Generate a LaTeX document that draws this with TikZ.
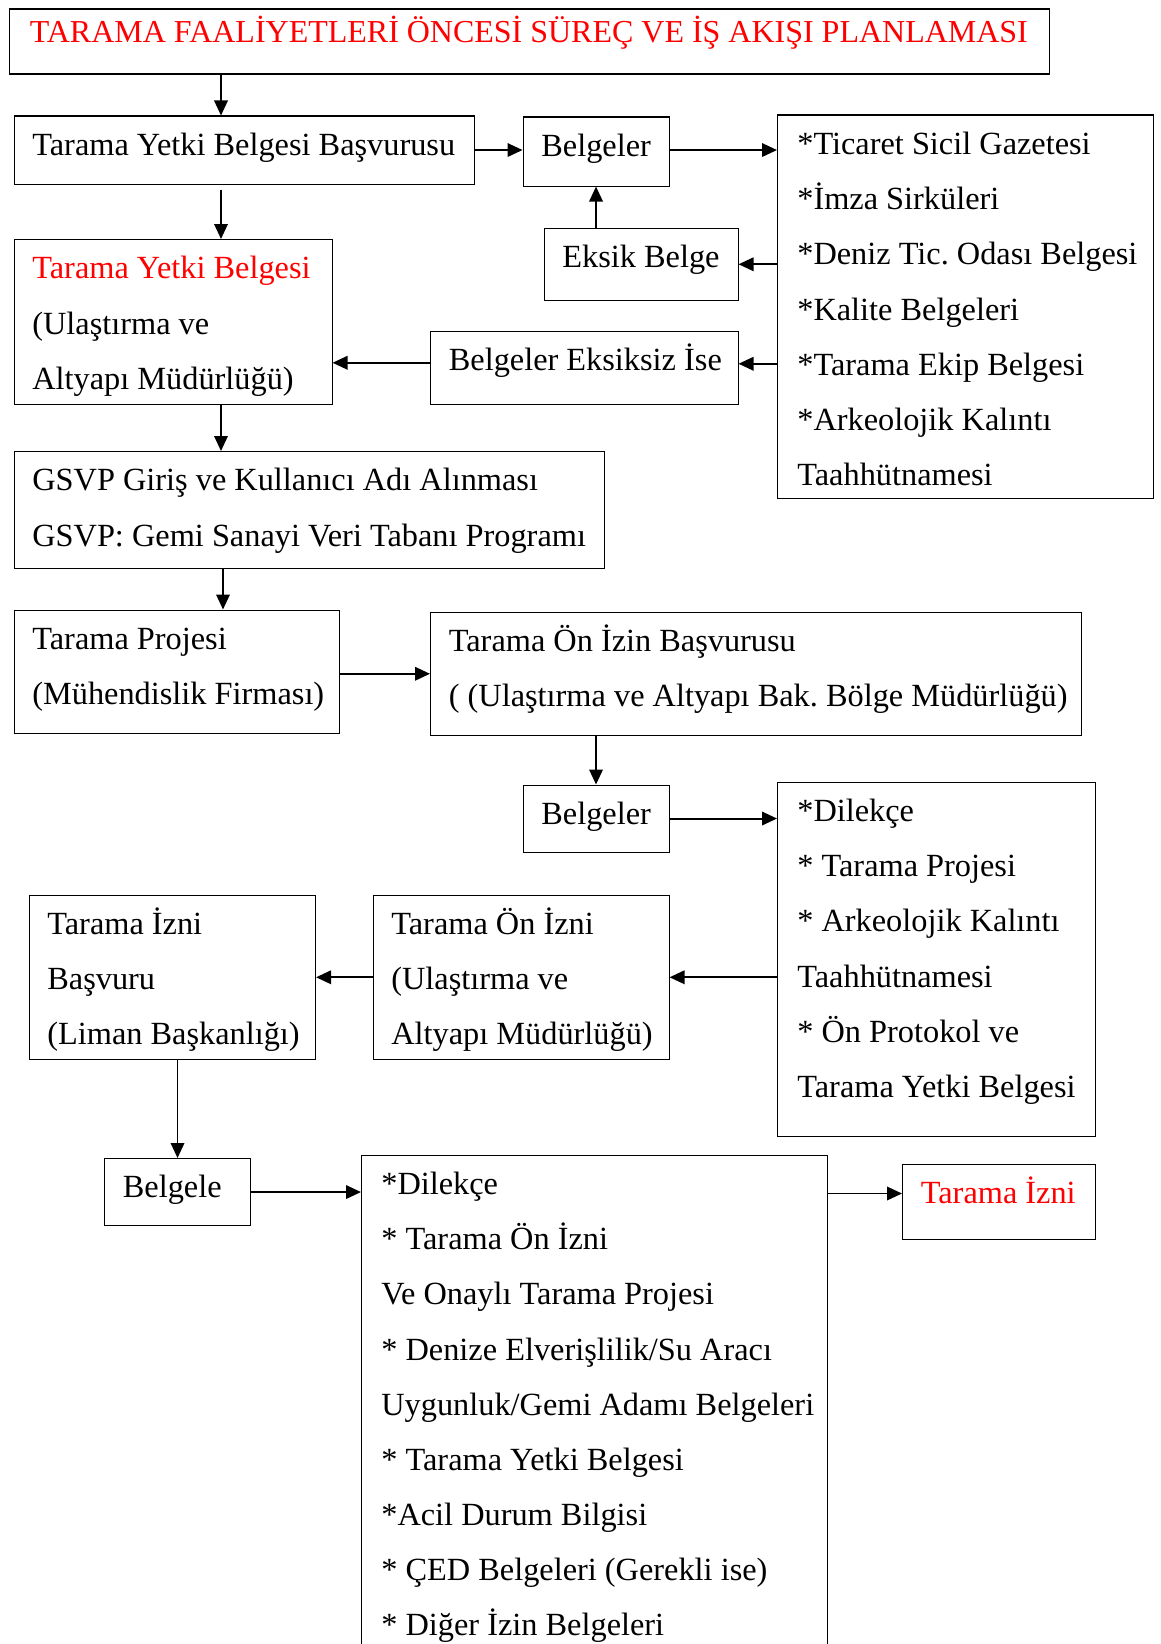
\documentclass[tikz,border=0pt]{standalone}
\usepackage{fontspec}
\setmainfont{Liberation Serif}
\usetikzlibrary{arrows.meta}

\tikzset{
  box/.style={draw, line width=0.6pt, anchor=north west, inner sep=0pt},
  txt/.style={anchor=north west, inner sep=0pt, text width=24cm,
    font=\fontsize{18.4}{31.4}\selectfont\frenchspacing,
    execute at begin node={\spaceskip=0pt\xspaceskip=0pt\strut}},
  arr/.style={-{Triangle[length=0.3cm,width=0.27cm]}, line width=1.1pt},
}

\begin{document}
\begin{tikzpicture}
\clip (0,0) rectangle (23.2,-32.88);

% ---- BAŞLIK ----
\node[box, minimum width=20.81cm, minimum height=1.30cm] (baslik) at (0.17,-0.17) {};
\node[txt, red, font=\fontsize{18.2}{31.4}\selectfont] (baslik-t) at ([shift={(0.42,0.1)}]baslik.north west)
    {TARAMA FAALİYETLERİ ÖNCESİ SÜREÇ VE İŞ AKIŞI PLANLAMASI};

% ---- TARAMA YETKİ BELGESİ ----
\node[box, minimum width=9.21cm, minimum height=1.36cm] (tybb) at (0.27,-2.31) {};
\node[txt] (tybb-t) at ([shift={(0.37,-0.02)}]tybb.north west) {Tarama Yetki Belgesi Başvurusu};
\node[box, minimum width=2.92cm, minimum height=1.38cm] (bel1) at (10.45,-2.33) {};
\node[txt] (bel1-t) at ([shift={(0.37,-0.02)}]bel1.north west) {Belgeler};
\node[box, minimum width=7.51cm, minimum height=7.66cm] (liste1) at (15.54,-2.29) {};
\node[txt] (liste1-t) at ([shift={(0.4,-0.02)}]liste1.north west)
    {*Ticaret Sicil Gazetesi\\{}*İmza Sirküleri\\{}*Deniz Tic. Odası Belgesi\\{}*Kalite Belgeleri\\
     {}*Tarama Ekip Belgesi\\{}*Arkeolojik Kalıntı\\Taahhütnamesi};
\node[box, minimum width=3.88cm, minimum height=1.45cm] (eksik) at (10.87,-4.55) {};
\node[txt] (eksik-t) at ([shift={(0.37,-0.02)}]eksik.north west) {Eksik Belge};
\node[box, minimum width=6.36cm, minimum height=3.29cm] (tyb) at (0.27,-4.78) {};
\node[txt] (tyb-t) at ([shift={(0.37,-0.02)}]tyb.north west)
    {\textcolor{red}{Tarama Yetki Belgesi}\\(Ulaştırma ve\\Altyapı Müdürlüğü)};
\node[box, minimum width=6.15cm, minimum height=1.47cm] (bei) at (8.60,-6.61) {};
\node[txt] (bei-t) at ([shift={(0.37,-0.02)}]bei.north west) {Belgeler Eksiksiz İse};

% ---- GSVP VE PROJE ----
\node[box, minimum width=11.81cm, minimum height=2.33cm] (gsvp) at (0.27,-9.02) {};
\node[txt] (gsvp-t) at ([shift={(0.37,-0.02)}]gsvp.north west)
    {GSVP Giriş ve Kullanıcı Adı Alınması\\GSVP: Gemi Sanayi Veri Tabanı Programı};
\node[box, minimum width=6.50cm, minimum height=2.47cm] (tp) at (0.27,-12.19) {};
\node[txt] (tp-t) at ([shift={(0.37,-0.02)}]tp.north west) {Tarama Projesi\\(Mühendislik Firması)};
\node[box, minimum width=13.01cm, minimum height=2.47cm] (toib) at (8.60,-12.23) {};
\node[txt] (toib-t) at ([shift={(0.37,-0.02)}]toib.north west)
    {Tarama Ön İzin Başvurusu\\( (Ulaştırma ve Altyapı Bak. Bölge Müdürlüğü)};

% ---- ÖN İZİN ----
\node[box, minimum width=2.92cm, minimum height=1.34cm] (bel2) at (10.45,-15.69) {};
\node[txt] (bel2-t) at ([shift={(0.37,-0.02)}]bel2.north west) {Belgeler};
\node[box, minimum width=6.35cm, minimum height=7.09cm] (liste2) at (15.54,-15.63) {};
\node[txt] (liste2-t) at ([shift={(0.4,-0.02)}]liste2.north west)
    {*Dilekçe\\{}* Tarama Projesi\\{}* Arkeolojik Kalıntı\\Taahhütnamesi\\{}* Ön Protokol ve\\Tarama Yetki Belgesi};
\node[box, minimum width=5.73cm, minimum height=3.29cm] (tib) at (0.57,-17.89) {};
\node[txt] (tib-t) at ([shift={(0.37,-0.02)}]tib.north west) {Tarama İzni\\Başvuru\\(Liman Başkanlığı)};
\node[box, minimum width=5.92cm, minimum height=3.29cm] (toi) at (7.45,-17.89) {};
\node[txt] (toi-t) at ([shift={(0.37,-0.02)}]toi.north west) {Tarama Ön İzni\\(Ulaştırma ve\\Altyapı Müdürlüğü)};

% ---- TARAMA İZNİ ----
\node[box, minimum width=2.92cm, minimum height=1.34cm] (belgele) at (2.08,-23.16) {};
\node[txt] (belgele-t) at ([shift={(0.37,-0.02)}]belgele.north west) {Belgele};
\node[box, minimum width=9.31cm, minimum height=10.5cm] (liste3) at (7.22,-23.09) {};
\node[txt] (liste3-t) at ([shift={(0.4,-0.02)}]liste3.north west)
    {*Dilekçe\\{}* Tarama Ön İzni\\Ve Onaylı Tarama Projesi\\{}* Denize Elverişlilik/Su Aracı\\
     Uygunluk/Gemi Adamı Belgeleri\\{}* Tarama Yetki Belgesi\\{}*Acil Durum Bilgisi\\
     {}* ÇED Belgeleri (Gerekli ise)\\{}* Diğer İzin Belgeleri};
\node[box, minimum width=3.86cm, minimum height=1.49cm] (ti) at (18.04,-23.28) {};
\node[txt, red] (ti-t) at ([shift={(0.37,-0.02)}]ti.north west) {Tarama İzni};

% ---- OKLAR ----
\coordinate (tiin) at ([yshift=-0.59cm]ti.north west);
\coordinate (beiin) at ([yshift=0.08cm]bei.east);
\coordinate (beiout) at ([yshift=0.1cm]bei.west);
\draw[arr] ([xshift=4.15cm]tybb.north west |- baslik.south) -- ([xshift=4.15cm]tybb.north west);
\draw[arr] (tybb.east) -- (tybb.east -| bel1.west);
\draw[arr] (bel1.east |- tybb.east) -- (liste1.west |- tybb.east);
\draw[arr] (eksik.north -| bel1.south) -- (bel1.south);
\draw[arr] (liste1.west |- eksik.east) -- (eksik.east);
\draw[arr, shorten <=0.1cm] ([xshift=4.15cm]tybb.south west) -- ([xshift=4.15cm]tyb.north west);
\draw[arr] (liste1.west |- beiin) -- (beiin);
\draw[arr] (beiout) -- (beiout -| tyb.east);
\draw[arr] ([xshift=4.15cm]tyb.south west) -- ([xshift=4.15cm]gsvp.north west);
\draw[arr] ([xshift=4.19cm]gsvp.south west) -- ([xshift=4.19cm]tp.north west);
\draw[arr] (tp.east |- toib.west) -- (toib.west);
\draw[arr] (bel2.north |- toib.south) -- (bel2.north);
\draw[arr] (bel2.east) -- (bel2.east -| liste2.west);
\draw[arr] (liste2.west |- toi.east) -- (toi.east);
\draw[arr] (toi.west) -- (toi.west -| tib.east);
\draw[arr] (belgele.north |- tib.south) -- (belgele.north);
\draw[arr] (belgele.east) -- (belgele.east -| liste3.west);
\draw[arr] (liste3.east |- tiin) -- (tiin);

\end{tikzpicture}
\end{document}
